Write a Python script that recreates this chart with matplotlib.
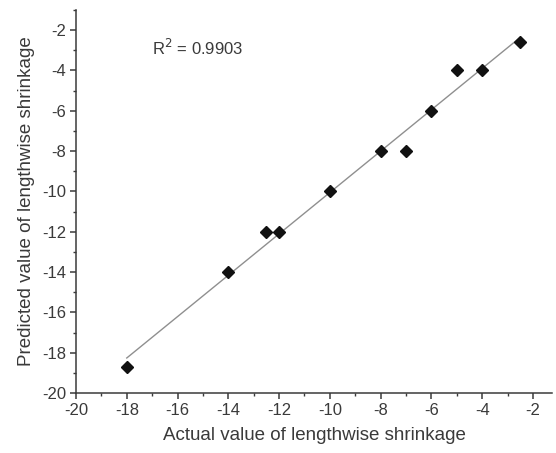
import numpy as np
import matplotlib.pyplot as plt
from matplotlib.ticker import MultipleLocator

plt.rcParams['font.family'] = ['Liberation Sans', 'DejaVu Sans']
plt.rcParams['axes.unicode_minus'] = False

# values
actual = [-18, -14, -12.5, -12, -10, -8, -7, -6, -5, -4, -2.5]
predicted = [-18.7, -14, -12, -12, -10, -8, -8, -6, -4, -4, -2.6]
r2_text = 'R$^2$ = 0.9903'
xlabel = 'Actual value of lengthwise shrinkage'
ylabel = 'Predicted value of lengthwise shrinkage'

x = np.array(actual)
y = np.array(predicted)
k, c = np.polyfit(x, y, 1)
xl = np.array([x.min(), x.max()])

fig = plt.figure(figsize=(5.56, 4.53), dpi=100)
ax = fig.add_axes([76 / 556, 1 - 393 / 453, 476 / 556, 383 / 453])

ink = '#3a3a3a'
ax.plot(xl, k * xl + c, color='#8f8f8f', lw=1.0, zorder=1)
ax.plot(x, y, 'D', color='#111111', ms=6.5, zorder=2)

ax.text(-17.0, -2.9, r2_text, fontsize=12, color=ink, va='center')

ax.set_xlim(-20, -1.25)
ax.set_ylim(-20, -1)
ax.xaxis.set_minor_locator(MultipleLocator(1))
ax.yaxis.set_minor_locator(MultipleLocator(1))
ax.set_xticks(np.arange(-20, -1, 2))
ax.set_yticks(np.arange(-20, -1, 2))

for s in ['top', 'right']:
    ax.spines[s].set_visible(False)
for s in ['left', 'bottom']:
    ax.spines[s].set_color(ink)
    ax.spines[s].set_linewidth(1.1)

ax.tick_params(which='major', direction='out', length=4, width=1.1, color=ink,
               labelsize=12, labelcolor=ink, pad=3)
ax.tick_params(which='minor', direction='out', length=2.5, width=1.0, color=ink)

ax.set_xlabel(xlabel, fontsize=13.5, color=ink, labelpad=7)
ax.set_ylabel(ylabel, fontsize=13.5, color=ink, labelpad=5)

fig.savefig('out.png', dpi=100)
